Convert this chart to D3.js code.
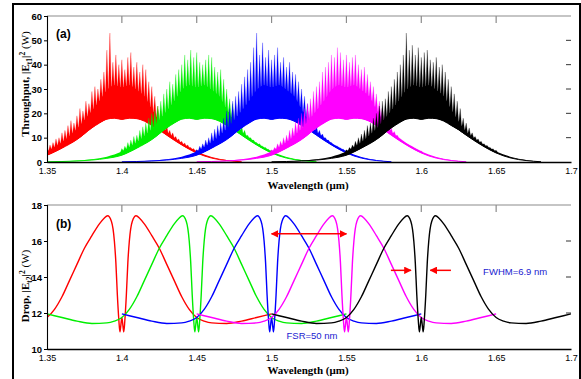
<!DOCTYPE html>
<html><head><meta charset="utf-8">
<script src="https://cdn.jsdelivr.net/npm/d3@7"></script>
<style>body{margin:0;background:#fff;} svg{display:block;}</style>
</head><body><svg id="c" width="581" height="379"></svg>
<script>
// ---------- DATA ----------
const centers = [1.40, 1.45, 1.50, 1.55, 1.60];          // channel centre wavelengths (µm)
const channelColors = ["#ff0000", "#00ee00", "#0000ff", "#ff00ff", "#000000"];

const xTicks = [1.35, 1.4, 1.45, 1.5, 1.55, 1.6, 1.65, 1.7];
const xTickLabels = ["1.35", "1.4", "1.45", "1.5", "1.55", "1.6", "1.65", "1.7"];
const topYTicks = [0, 10, 20, 30, 40, 50, 60];
const botYTicks = [10, 12, 14, 16, 18];

// Throughput: band envelope relative to channel centre (shared shape)
const envOffsets = [-0.10,-0.09,-0.08,-0.07,-0.06,-0.05,-0.04,-0.03,-0.02,-0.015,-0.01,-0.005,0,0.005,0.01,0.015,0.02,0.025,0.03,0.04,0.05,0.06,0.07,0.08];
const envLower   = [0.1,0.2,0.4,0.8,1.5,2.8,5.7,9.2,14,16,17.6,18,17.5,18,17.8,16.8,15,13.2,11,7,3.7,1.6,0.6,0.1];
const envDense   = [0.15,0.3,0.6,1.1,2.2,4.3,8,13.5,21,25,29.5,31.5,30.5,31.5,29.5,27,21.5,16.5,12.3,7.7,4.3,2.1,0.8,0.2];

// Throughput: spike peaks, offsets -0.05 .. +0.05 step 0.002
const spikesRed     = [6,7,8,9.5,10,12,13,15,17,16,19,22,21,25,24,29,31,30,34,37,46,53,41,44,40,42,38,43,45,39,41,37,40,38,33,31,27,23,21,18,15,13,12,10.5,9.5,8.5,7.8,7,6,5.5,5];
const spikesGreen   = [5.5,6.5,8,9,10.5,11,13,14.5,16,18,20,21,23,25,28,30,33,32,36,38,40,44,42,46,43,45,41,40,42,44,43,39,37,38,34,30,26,24,20,17,15,13,11,10,9,8,7.5,6.5,6,5.2,4.8];
const spikesBlue    = [5,6.5,7.5,9,10,12,13.5,15,16,18,21,22,25,27,29,32,35,38,41,47,53,44,49,43,46,42,44,47,41,43,39,41,37,36,33,30,27,24,20,17,15,13,11.5,10,9,8,7,6.5,5.8,5.2,4.6];
const spikesMagenta = [5,6,7.5,8.5,10,11,13,14,16.5,18,20,22,24,26,29,31,33,37,39,41,44,43,47,45,42,44,41,43,44,40,38,39,36,33,31,28,25,22,19,17,14,12.5,11,9.5,8.5,7.5,7,6.2,5.6,5,4.5];
const spikesBlack   = [5,6,7,8.5,10,11.5,13,15,16,18,20,23,25,26,29,31,34,37,40,44,53,46,48,44,47,43,45,46,42,41,43,39,40,37,34,31,28,25,22,18,16,14,12,10.5,9.5,8.5,7.5,6.8,6,5.4,4.8];
const spikeSets = [spikesRed, spikesGreen, spikesBlue, spikesMagenta, spikesBlack];
const spikeStart = -0.05, spikeStep = 0.002;

// Drop port: response relative to channel centre (shared shape)
const dropOffsets = [-0.1,-0.09,-0.08,-0.07,-0.06,-0.055,-0.05,-0.045,-0.04,-0.035,-0.03,-0.025,-0.02,-0.015,-0.012,-0.0095,-0.007,-0.005,-0.004,-0.003,-0.002,-0.0013,-0.0007,0,0.0007,0.0013,0.002,0.003,0.004,0.005,0.007,0.0095,0.012,0.015,0.02,0.025,0.03,0.035,0.04,0.045,0.05,0.055,0.06,0.07,0.08,0.09,0.1];
const dropValues  = [11.95,11.75,11.55,11.42,11.45,11.55,11.75,12.2,12.9,13.8,14.7,15.6,16.3,16.95,17.25,17.4,17.1,16.0,14.8,13.0,11.6,10.95,11.3,11.75,11.3,10.95,11.6,13.0,14.8,16.0,17.1,17.4,17.25,16.95,16.3,15.6,14.7,13.8,12.9,12.2,11.75,11.55,11.45,11.42,11.55,11.75,11.95];

// annotations (data coordinates of panel b)
const fsrArrow = {x1: 1.50, x2: 1.55, y: 16.4};
const fwhmArrows = [{from: 1.5797, to: 1.5931, y: 14.37}, {from: 1.6198, to: 1.606, y: 14.37}];
const notes = [{text: "FWHM=6.9 nm", x: 1.6413, y: 14.1}, {text: "FSR=50 nm", x: 1.51, y: 10.56}];

// ---------- DRAW ----------
const svg = d3.select("#c");
const L = 47, R = 571;
const x = d3.scaleLinear().domain([1.35, 1.7]).range([L, R]);
const y1 = d3.scaleLinear().domain([0, 60]).range([162, 16]);
const y2 = d3.scaleLinear().domain([10, 18]).range([349, 205]);
const denseAt = d3.scaleLinear().domain(envOffsets).range(envDense);

const defs = svg.append("defs");
defs.append("clipPath").attr("id", "clipA").append("rect").attr("x", L).attr("y", 16).attr("width", R - L).attr("height", 146);
defs.append("clipPath").attr("id", "clipB").append("rect").attr("x", L).attr("y", 205).attr("width", R - L).attr("height", 144);
const mk = defs.append("marker").attr("id", "ah").attr("viewBox", "0 0 10 10").attr("refX", 9).attr("refY", 5)
  .attr("markerWidth", 5).attr("markerHeight", 5).attr("orient", "auto-start-reverse").attr("markerUnits", "strokeWidth");
mk.append("path").attr("d", "M0,0 L10,5 L0,10 z").attr("fill", "#ff0000");

// outer frame
svg.append("rect").attr("x", 13).attr("y", 4).attr("width", 567).attr("height", 420)
  .attr("fill", "none").attr("stroke", "#000").attr("stroke-width", 2);

const tickFont = "'Liberation Sans Narrow','Arial Narrow','Liberation Sans',Arial,sans-serif";

// ---- panel (a) ----
const gA = svg.append("g").attr("clip-path", "url(#clipA)");
const envData = envOffsets.map((o, i) => ({o, lo: envLower[i], hi: envDense[i]}));
const hw = 0.0009; // half-width of a spike (µm)
centers.forEach((c, i) => {
  const col = channelColors[i];
  const cid = "above" + i;
  const aboveArea = d3.area().x(d => x(c + d.o)).y0(d => y1(d.lo)).y1(() => 0).curve(d3.curveMonotoneX);
  defs.append("clipPath").attr("id", cid).append("path").attr("d", aboveArea(envData));
  const g = gA.append("g");
  g.append("path").attr("d", d3.area().x(d => x(c + d.o)).y0(d => y1(d.lo)).y1(d => y1(d.hi)).curve(d3.curveMonotoneX)(envData))
    .attr("fill", col).attr("stroke", "none");
  const pts = [];
  spikeSets[i].forEach((v, j) => {
    const o = spikeStart + j * spikeStep;
    pts.push([o - hw, denseAt(o - hw)]);
    pts.push([o, Math.max(v, denseAt(o))]);
    pts.push([o + hw, denseAt(o + hw)]);
  });
  const gs = g.append("g").attr("clip-path", `url(#${cid})`);
  gs.append("path").attr("d", d3.area().x(p => x(c + p[0])).y0(y1(0)).y1(p => y1(p[1]))(pts))
    .attr("fill", col).attr("stroke", col).attr("stroke-width", 0.4).attr("stroke-opacity", 0.6);
  g.append("path").attr("d", d3.line().x(d => x(c + d.o)).y(d => y1(d.lo)).curve(d3.curveMonotoneX)(envData))
    .attr("fill", "none").attr("stroke", col).attr("stroke-width", 1);
});

// ---- panel (b) ----
const gB = svg.append("g").attr("clip-path", "url(#clipB)");
const dropData = dropOffsets.map((o, i) => ({o, v: dropValues[i]}));
centers.forEach((c, i) => {
  gB.append("path").attr("d", d3.line().x(d => x(c + d.o)).y(d => y2(d.v)).curve(d3.curveMonotoneX)(dropData))
    .attr("fill", "none").attr("stroke", channelColors[i]).attr("stroke-width", 1.4);
});

// ---- axes ----
function drawAxes(yScale, yTicks, top, bottom) {
  svg.append("line").attr("x1", L).attr("x2", R).attr("y1", top).attr("y2", top).attr("stroke", "#8c8c8c").attr("stroke-width", 1.2);
  xTicks.slice(1, -1).forEach(t => svg.append("line").attr("x1", x(t)).attr("x2", x(t)).attr("y1", top).attr("y2", top + 7)
    .attr("stroke", "#8c8c8c").attr("stroke-width", 1.2));
  yTicks.slice(1, -1).forEach(t => svg.append("line").attr("x1", R - 5).attr("x2", R).attr("y1", yScale(t)).attr("y2", yScale(t))
    .attr("stroke", "#333").attr("stroke-width", 1));
  const ax = svg.append("g").attr("transform", `translate(0,${bottom})`)
    .call(d3.axisBottom(x).tickValues(xTicks).tickFormat((d, i) => xTickLabels[i]).tickSize(0).tickPadding(6));
  ax.select(".domain").attr("stroke", "#000").attr("stroke-width", 1.6);
  ax.selectAll("text").style("font-family", tickFont).style("font-size", "9px").attr("fill", "#000");
  const ay = svg.append("g").attr("transform", `translate(${L},0)`)
    .call(d3.axisLeft(yScale).tickValues(yTicks).tickSize(3).tickPadding(2));
  ay.select(".domain").attr("stroke", "#000").attr("stroke-width", 1.1);
  ay.selectAll("line").attr("stroke", "#000");
  ay.selectAll("text").style("font-family", tickFont).style("font-size", "9.5px").style("font-weight", "bold").attr("fill", "#000");
}
drawAxes(y1, topYTicks, 16, 162);
drawAxes(y2, botYTicks, 205, 349);

function xTitle(yb) {
  svg.append("text").attr("x", 308).attr("y", yb).attr("text-anchor", "middle")
    .style("font-family", "'Liberation Serif','Times New Roman',serif").style("font-weight", "bold").style("font-size", "11px")
    .text("Wavelength (\u03bcm)");
}
xTitle(189); xTitle(374);

function yTitle(cx, cy, label, sub) {
  const t = svg.append("text").attr("transform", `translate(${cx},${cy}) rotate(-90)`).attr("text-anchor", "middle")
    .style("font-family", "'Liberation Serif','Times New Roman',serif").style("font-weight", "bold").style("font-size", "11px");
  t.append("tspan").text(label + ", |E");
  t.append("tspan").attr("dy", 2.5).style("font-size", "7.5px").text(sub);
  t.append("tspan").attr("dy", -2.5).text("|");
  t.append("tspan").attr("dy", -4.5).style("font-size", "7.5px").text("2");
  t.append("tspan").attr("dy", 4.5).style("font-weight", "normal").text(" (W)");
}
yTitle(29, 84, "Throughput", "t1");
yTitle(29, 286, "Drop", "t2");

svg.append("text").attr("x", 56).attr("y", 38).text("(a)")
  .style("font-family", "'Liberation Sans',Arial,sans-serif").style("font-weight", "bold").style("font-size", "12px");
svg.append("text").attr("x", 56).attr("y", 228).text("(b)")
  .style("font-family", "'Liberation Sans',Arial,sans-serif").style("font-weight", "bold").style("font-size", "12px");

svg.append("line").attr("x1", x(fsrArrow.x1)).attr("x2", x(fsrArrow.x2)).attr("y1", y2(fsrArrow.y)).attr("y2", y2(fsrArrow.y))
  .attr("stroke", "#ff0000").attr("stroke-width", 1.5).attr("marker-start", "url(#ah)").attr("marker-end", "url(#ah)");
fwhmArrows.forEach(a => svg.append("line").attr("x1", x(a.from)).attr("x2", x(a.to)).attr("y1", y2(a.y)).attr("y2", y2(a.y))
  .attr("stroke", "#ff0000").attr("stroke-width", 1.5).attr("marker-end", "url(#ah)"));
notes.forEach(n => svg.append("text").attr("x", x(n.x)).attr("y", y2(n.y)).text(n.text)
  .style("font-family", tickFont).style("font-size", "9.5px").attr("fill", "#1a1ad0"));
</script>
</body></html>
